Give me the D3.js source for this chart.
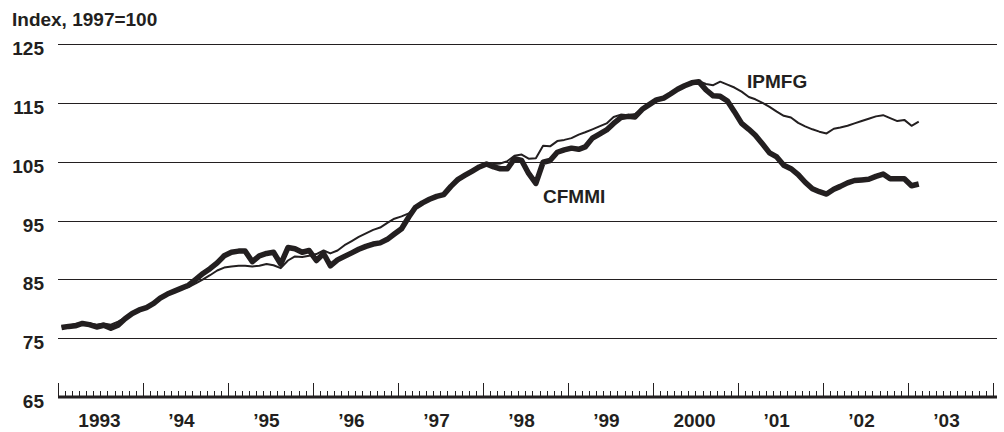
<!DOCTYPE html>
<html>
<head>
<meta charset="utf-8">
<script src="https://cdn.jsdelivr.net/npm/d3@7"></script>
<style>
  body { margin: 0; background: #fff; }
  text { font-family: "Liberation Sans", Arial, sans-serif; font-weight: bold; fill: #231f20; }
</style>
</head>
<body>
<div id="grafico"></div>
<script>
// valores mensuales, ene 1993 - feb 2003
const cfmmi = [
  76.8, 77.0, 77.1, 77.5, 77.3, 76.9, 77.2, 76.7, 77.2, 78.3, 79.2, 79.8,
  80.2, 80.9, 81.8, 82.5, 83.0, 83.5, 84.0, 85.0, 86.0, 86.8, 87.8, 89.0,
  89.6, 89.8, 89.8, 88.0, 89.0, 89.4, 89.6, 87.6, 90.4, 90.2, 89.6, 89.9,
  88.2, 89.4, 87.3, 88.3, 88.9, 89.5, 90.1, 90.6, 91.0, 91.2, 91.8, 92.7,
  93.6, 95.6, 97.2, 98.0, 98.6, 99.1, 99.4, 100.8, 102.0, 102.7, 103.4, 104.1,
  104.6, 104.1, 103.8, 103.8, 105.5, 105.2, 103.0, 101.3, 104.9, 105.2, 106.6, 107.0,
  107.3, 107.1, 107.5, 109.0, 109.7, 110.4, 111.5, 112.5, 112.7, 112.6, 113.9, 114.7,
  115.5, 115.8, 116.5, 117.3, 117.9, 118.4, 118.6, 117.2, 116.2, 116.1, 115.3, 113.5,
  111.5, 110.5, 109.5, 108.0, 106.5, 105.8, 104.4, 103.8, 102.8, 101.5, 100.4, 99.9,
  99.5, 100.3, 100.8, 101.4, 101.8, 101.9, 102.0, 102.5, 102.9, 102.1, 102.1, 102.1,
  100.9, 101.2
];
const ipmfg = [
  77.0, 77.1, 77.4, 77.6, 77.5, 77.3, 77.5, 77.3, 77.8, 78.5, 79.2, 79.8,
  80.3, 81.0, 81.8, 82.5, 83.0, 83.4, 83.7, 84.3, 85.0, 85.7, 86.5, 87.0,
  87.2, 87.3, 87.3, 87.2, 87.3, 87.6, 87.4, 86.9, 88.2, 88.9, 88.8, 89.0,
  89.3, 89.9, 89.4, 89.9, 90.8, 91.5, 92.2, 92.8, 93.4, 93.8, 94.6, 95.3,
  95.7, 96.2, 97.2, 98.0, 98.6, 99.1, 99.5, 100.6, 101.7, 102.6, 103.3, 104.0,
  104.5, 104.6, 104.7, 105.1, 106.0, 106.2, 105.5, 105.6, 107.7, 107.6, 108.5, 108.7,
  109.0, 109.6, 110.0, 110.5, 111.0, 111.5, 112.6, 113.0, 112.9, 113.1, 114.0, 114.8,
  115.6, 115.9, 116.6, 117.3, 117.9, 118.4, 118.7, 118.2, 118.0, 118.6, 118.1, 117.6,
  116.9, 116.0, 115.6, 115.0, 114.3, 113.5, 112.8, 112.5, 111.6, 111.0, 110.5, 110.1,
  109.8, 110.6, 110.8, 111.1, 111.5, 111.9, 112.3, 112.7, 112.9, 112.4, 111.9, 112.1,
  111.1, 111.8
];
const marcasY = [65, 75, 85, 95, 105, 115, 125];
const etiquetasAnio = ["1993", "\u201994", "\u201995", "\u201996", "\u201997", "\u201998",
  "\u201999", "2000", "\u201901", "\u201902", "\u201903"];

const ancho = 1004, alto = 432;
const izq = 58, der = 993, arriba = 44, abajo = 397;

const fechas = d3.timeMonth.range(new Date(1993, 0, 1), new Date(1993, cfmmi.length, 1))
  .map(d => d3.timeDay.offset(d, 15));

const x = d3.scaleTime()
  .domain([new Date(1993, 0, 1), new Date(2004, 0, 1)])
  .range([izq, der]);
const y = d3.scaleLinear().domain([65, 125]).range([abajo, arriba]);

const $svg = d3.select("#grafico").append("svg")
  .attr("width", ancho).attr("height", alto);

$svg.append("text")
  .attr("x", 12).attr("y", 26)
  .attr("font-size", 19)
  .text("Index, 1997=100");

// lineas de la cuadricula
$svg.append("g").selectAll("line")
  .data(marcasY.filter(v => v > 65))
  .join("line")
  .attr("x1", izq).attr("x2", der + 4)
  .attr("y1", d => Math.round(y(d)) + 0.5).attr("y2", d => Math.round(y(d)) + 0.5)
  .attr("stroke", "#231f20").attr("stroke-width", 1);

$svg.append("g").selectAll("text")
  .data(marcasY)
  .join("text")
  .attr("x", 44).attr("y", d => y(d) + 11)
  .attr("text-anchor", "end")
  .attr("font-size", 19)
  .text(d => d);

// eje x con marcas mensuales
const ejeX = $svg.append("g");
ejeX.selectAll("line.mes")
  .data(d3.timeMonth.range(new Date(1993, 0, 1), new Date(2004, 0, 2)))
  .join("line")
  .attr("x1", d => Math.round(x(d)) + 0.5).attr("x2", d => Math.round(x(d)) + 0.5)
  .attr("y1", abajo)
  .attr("y2", d => d.getMonth() === 0 ? abajo - 14 : abajo - 6)
  .attr("stroke", "#231f20").attr("stroke-width", 1);

ejeX.append("line")
  .attr("x1", izq).attr("x2", der + 4)
  .attr("y1", abajo).attr("y2", abajo)
  .attr("stroke", "#231f20").attr("stroke-width", 3);

ejeX.selectAll("text")
  .data(etiquetasAnio)
  .join("text")
  .attr("x", (d, i) => (x(new Date(1993 + i, 0, 1)) + x(new Date(1994 + i, 0, 1))) / 2 - (d.length === 3 ? 4 : 1))
  .attr("y", 427)
  .attr("text-anchor", "middle")
  .attr("font-size", 19)
  .text(d => d);

const linea = valores => d3.line()
  .x((d, i) => x(fechas[i]))
  .y(d => y(d))(valores);

$svg.append("path")
  .attr("d", linea(cfmmi))
  .attr("fill", "none")
  .attr("stroke", "#231f20")
  .attr("stroke-width", 5.5)
  .attr("stroke-linejoin", "round");

$svg.append("path")
  .attr("d", linea(ipmfg))
  .attr("fill", "none")
  .attr("stroke", "#231f20")
  .attr("stroke-width", 2)
  .attr("stroke-linejoin", "round");

$svg.append("text").attr("x", 747).attr("y", 88).attr("font-size", 19).text("IPMFG");
$svg.append("text").attr("x", 543).attr("y", 203).attr("font-size", 19).text("CFMMI");
</script>
</body>
</html>
